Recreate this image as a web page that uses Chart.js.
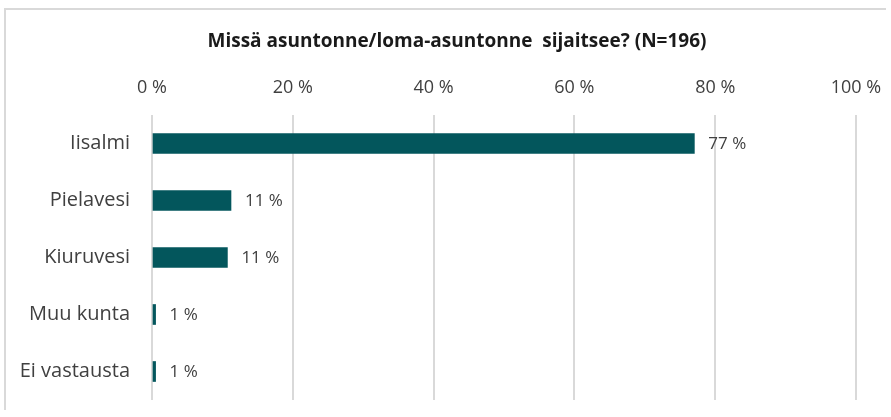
<!DOCTYPE html>
<html>
<head>
<meta charset="utf-8">
<script src="https://cdn.jsdelivr.net/npm/chart.js@4.4.0/dist/chart.umd.min.js"></script>
<style>
  html, body { margin: 0; padding: 0; background: #fff; overflow: hidden; }
  #wrap { position: absolute; left: 0; top: 0; width: 891px; height: 417px; overflow: hidden; }
  #frame { position: absolute; left: 4px; top: 8px; width: 880px; height: 400px;
           border-left: 2px solid #d9d9d9; border-top: 2px solid #d9d9d9; }
  canvas { position: absolute; left: 0; top: 0; }
</style>
</head>
<body>
<div id="wrap">
  <div id="frame"></div>
  <canvas id="myChart" width="891" height="417"></canvas>
</div>
<script>
const titleText = "Missä asuntonne/loma-asuntonne  sijaitsee? (N=196)";
const categories = ["Iisalmi", "Pielavesi", "Kiuruvesi", "Muu kunta", "Ei vastausta"];
const shares = [77.04, 11.22, 10.71, 0.51, 0.51];
const shareLabels = ["77 %", "11 %", "11 %", "1 %", "1 %"];
const tickValues = [0, 20, 40, 60, 80, 100];

const barColor = "#03565c";
const textColor = "#404040";
const fontName = "'Open Sans', Lato, sans-serif";

// arvot palkkien perään + otsikko
const valueLabels = {
  id: "valueLabels",
  afterDatasetsDraw(chart) {
    const ctx = chart.ctx;
    const meta = chart.getDatasetMeta(0);
    ctx.save();
    ctx.font = "17px " + fontName;
    ctx.fillStyle = textColor;
    ctx.textAlign = "left";
    ctx.textBaseline = "middle";
    meta.data.forEach((bar, i) => {
      ctx.fillText(shareLabels[i], bar.x + 14, bar.y + 1);
    });
    // otsikko keskitetään kehyksen mukaan, ei koko canvasin
    ctx.font = "bold 19px " + fontName;
    ctx.fillStyle = "#1a1a1a";
    ctx.textAlign = "center";
    ctx.fillText(titleText, (chart.chartArea.right + 58) / 2, 42);
    ctx.restore();
  },
};

const ctx = document.getElementById("myChart").getContext("2d");
new Chart(ctx, {
  type: "bar",
  data: {
    labels: categories,
    datasets: [{
      data: shares,
      backgroundColor: barColor,
      barThickness: 20,
    }],
  },
  options: {
    indexAxis: "y",
    responsive: false,
    animation: false,
    layout: { padding: { left: 0, right: 35, top: 53, bottom: 17 } },
    plugins: {
      legend: { display: false },
      tooltip: { enabled: false },
      title: { display: false },
    },
    scales: {
      x: {
        position: "top",
        min: 0,
        max: 100,
        afterBuildTicks: (s) => { s.ticks = tickValues.map((v) => ({ value: v })); },
        afterFit: (s) => { s.height = 62; s.paddingLeft = 0; s.paddingRight = 0; },
        ticks: {
          callback: (v) => v + " %",
          color: textColor,
          font: { family: fontName, size: 18 },
          padding: 16,
        },
        grid: { color: "#d9d9d9", lineWidth: 2, drawTicks: false },
        border: { display: false },
      },
      y: {
        afterFit: (s) => { s.width = 152; s.paddingTop = 0; s.paddingBottom = 0; },
        ticks: {
          color: textColor,
          font: { family: fontName, size: 20 },
          padding: 22,
        },
        grid: { display: false, drawTicks: false },
        border: { display: false },
      },
    },
  },
  plugins: [valueLabels],
});
</script>
</body>
</html>
